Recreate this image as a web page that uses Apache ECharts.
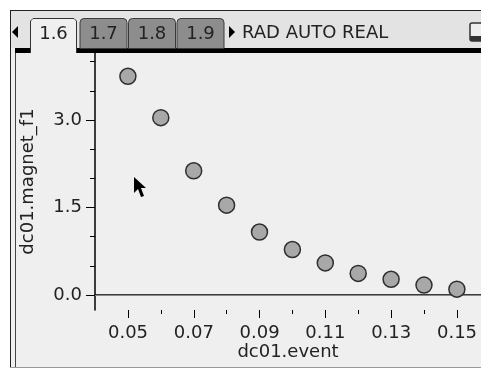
<!DOCTYPE html>
<html>
<head>
<meta charset="utf-8">
<script src="https://cdn.jsdelivr.net/npm/echarts@6/dist/echarts.min.js"></script>
<style>
  html, body { margin: 0; padding: 0; background: #fff; }
  #chart { width: 481px; height: 369px; }
</style>
</head>
<body>
<div id="chart"></div>
<script>
// data
const eventValues = [0.05, 0.06, 0.07, 0.08, 0.09, 0.10, 0.11, 0.12, 0.13, 0.14, 0.15]
const magnetValues = [3.75, 3.04, 2.13, 1.54, 1.08, 0.78, 0.55, 0.37, 0.27, 0.17, 0.10]
const tabLabels = ['1.6', '1.7', '1.8', '1.9']
const statusText = 'RAD AUTO REAL'
const xName = 'dc01.event'
const yName = 'dc01.magnet_f1'

const FONT = '"DejaVu Sans", sans-serif'
const INK = '#222'

let myChart = echarts.init(document.getElementById('chart'))

// tab bar, frame and cursor
let graphics = [
  { type: 'rect', shape: { x: 11, y: 11, width: 470, height: 356 }, style: { fill: '#efefef' }, z: -10 },
  { type: 'rect', shape: { x: 11, y: 11, width: 470, height: 37 }, style: { fill: '#e3e3e3' }, z: -9 },
  { type: 'rect', shape: { x: 10, y: 10, width: 471, height: 1 }, style: { fill: '#222' } },
  { type: 'rect', shape: { x: 10, y: 10, width: 1, height: 357 }, style: { fill: '#222' } },
  { type: 'rect', shape: { x: 15, y: 53, width: 1, height: 314 }, style: { fill: '#444' } },
  { type: 'rect', shape: { x: 10, y: 367, width: 471, height: 1 }, style: { fill: '#999' } },
  // thick black band under the tabs
  { type: 'rect', shape: { x: 15, y: 48, width: 15, height: 5 }, style: { fill: '#000' } },
  { type: 'rect', shape: { x: 77, y: 48, width: 404, height: 5 }, style: { fill: '#000' } },
  // arrows
  { type: 'polygon', shape: { points: [[12, 32], [18, 26], [18, 38]] }, style: { fill: '#000' } },
  { type: 'polygon', shape: { points: [[229, 26], [229, 38], [235, 32]] }, style: { fill: '#000' } },
  { type: 'text', style: { text: statusText, x: 242, y: 33, fill: INK, font: '18px ' + FONT, verticalAlign: 'middle' } },
  // battery
  { type: 'rect', shape: { x: 470, y: 23, width: 14, height: 18, r: 2 }, style: { fill: '#eee', stroke: '#333', lineWidth: 1.5 } },
  { type: 'rect', shape: { x: 470, y: 36, width: 14, height: 5 }, style: { fill: '#333' } },
  // mouse pointer
  {
    type: 'polygon',
    shape: { points: [[134, 177], [134, 193], [138, 189], [141, 197], [144, 196], [141, 188], [146, 188]] },
    style: { fill: '#000' }
  }
]

tabLabels.forEach((label, i) => {
  if (i === 0) {
    graphics.push({ type: 'rect', shape: { x: 30, y: 18, width: 47, height: 35, r: [4, 4, 0, 0] }, style: { fill: '#efefef' } })
    graphics.push({
      type: 'polyline',
      shape: { points: [[30.5, 53], [30.5, 21], [33, 18.5], [74, 18.5], [76.5, 21], [76.5, 53]] },
      style: { stroke: '#333', lineWidth: 1, fill: null }
    })
    graphics.push({ type: 'text', style: { text: label, x: 53.5, y: 34, fill: INK, font: '18px ' + FONT, align: 'center', verticalAlign: 'middle' } })
  } else {
    let left = 80 + (i - 1) * 48.5
    graphics.push({
      type: 'rect',
      shape: { x: left, y: 18.5, width: 47, height: 30, r: [4, 4, 0, 0] },
      style: { fill: '#8d8d8d', stroke: '#3a3a3a', lineWidth: 1 }
    })
    graphics.push({ type: 'text', style: { text: label, x: left + 23.5, y: 34, fill: INK, font: '18px ' + FONT, align: 'center', verticalAlign: 'middle' } })
  }
})

let labelStyle = { color: INK, fontSize: 18, fontFamily: FONT }
let noAxis = { type: 'value', show: false }

myChart.setOption({
  animation: false,
  backgroundColor: '#fff',
  graphic: graphics,
  grid: [
    { left: 95, top: 53, width: 386, height: 257, outerBoundsMode: 'none' }, // data
    { left: 95, top: 61.67, width: 10, height: 233.33, outerBoundsMode: 'none' }, // y short ticks
    { left: 95, top: 120, width: 10, height: 175, outerBoundsMode: 'none' }, // y labelled ticks
    { left: 128, top: 300, width: 329, height: 10, outerBoundsMode: 'none' }, // x labelled ticks
    { left: 160.9, top: 300, width: 263.2, height: 10, outerBoundsMode: 'none' } // x short ticks
  ],
  xAxis: [
    {
      gridIndex: 0,
      type: 'value',
      min: 0.04,
      max: 0.15733,
      axisLine: { lineStyle: { color: '#000', width: 1.5 } },
      axisTick: { show: false },
      axisLabel: { show: false },
      splitLine: { show: false },
      name: xName,
      nameLocation: 'middle',
      nameGap: 33,
      nameTextStyle: labelStyle
    },
    Object.assign({ gridIndex: 1 }, noAxis),
    Object.assign({ gridIndex: 2 }, noAxis),
    {
      gridIndex: 3,
      type: 'value',
      min: 0.05,
      max: 0.15,
      interval: 0.02,
      axisLine: { show: false },
      axisTick: { length: 8, lineStyle: { color: '#000' } },
      axisLabel: Object.assign({ margin: 14, formatter: v => v.toFixed(2) }, labelStyle),
      splitLine: { show: false }
    },
    {
      gridIndex: 4,
      type: 'value',
      min: 0.06,
      max: 0.14,
      interval: 0.02,
      axisLine: { show: false },
      axisTick: { length: 4, lineStyle: { color: '#000' } },
      axisLabel: { show: false },
      splitLine: { show: false }
    }
  ],
  yAxis: [
    {
      gridIndex: 0,
      type: 'value',
      min: -0.2571,
      max: 4.1486,
      axisLine: { show: true, lineStyle: { color: '#000', width: 1.5 } },
      axisTick: { show: false },
      axisLabel: { show: false },
      splitLine: { show: false },
      name: yName,
      nameLocation: 'middle',
      nameGap: 58,
      nameRotate: 90,
      nameTextStyle: labelStyle
    },
    {
      gridIndex: 1,
      type: 'value',
      min: 0,
      max: 4,
      interval: 0.5,
      axisLine: { show: false },
      axisTick: { show: true, length: 5, lineStyle: { color: '#000' } },
      axisLabel: { show: false },
      splitLine: { show: false }
    },
    {
      gridIndex: 2,
      type: 'value',
      min: 0,
      max: 3,
      interval: 1.5,
      axisLine: { show: false },
      axisTick: { show: true, length: 9, lineStyle: { color: '#000' } },
      axisLabel: Object.assign({ margin: 13, formatter: v => v.toFixed(1) }, labelStyle),
      splitLine: { show: false }
    },
    Object.assign({ gridIndex: 3 }, noAxis),
    Object.assign({ gridIndex: 4 }, noAxis)
  ],
  series: [
    {
      type: 'scatter',
      xAxisIndex: 0,
      yAxisIndex: 0,
      symbol: 'circle',
      symbolSize: 16,
      data: eventValues.map((x, i) => [x, magnetValues[i]]),
      itemStyle: { color: '#a8a8a8', borderColor: '#2e2e2e', borderWidth: 1.5, opacity: 1 },
      markLine: {
        silent: true,
        symbol: 'none',
        label: { show: false },
        lineStyle: { color: '#8a8a8a', width: 1, type: 'solid' },
        data: [{ yAxis: 0 }]
      },
      z: 5
    }
  ]
})
</script>
</body>
</html>
